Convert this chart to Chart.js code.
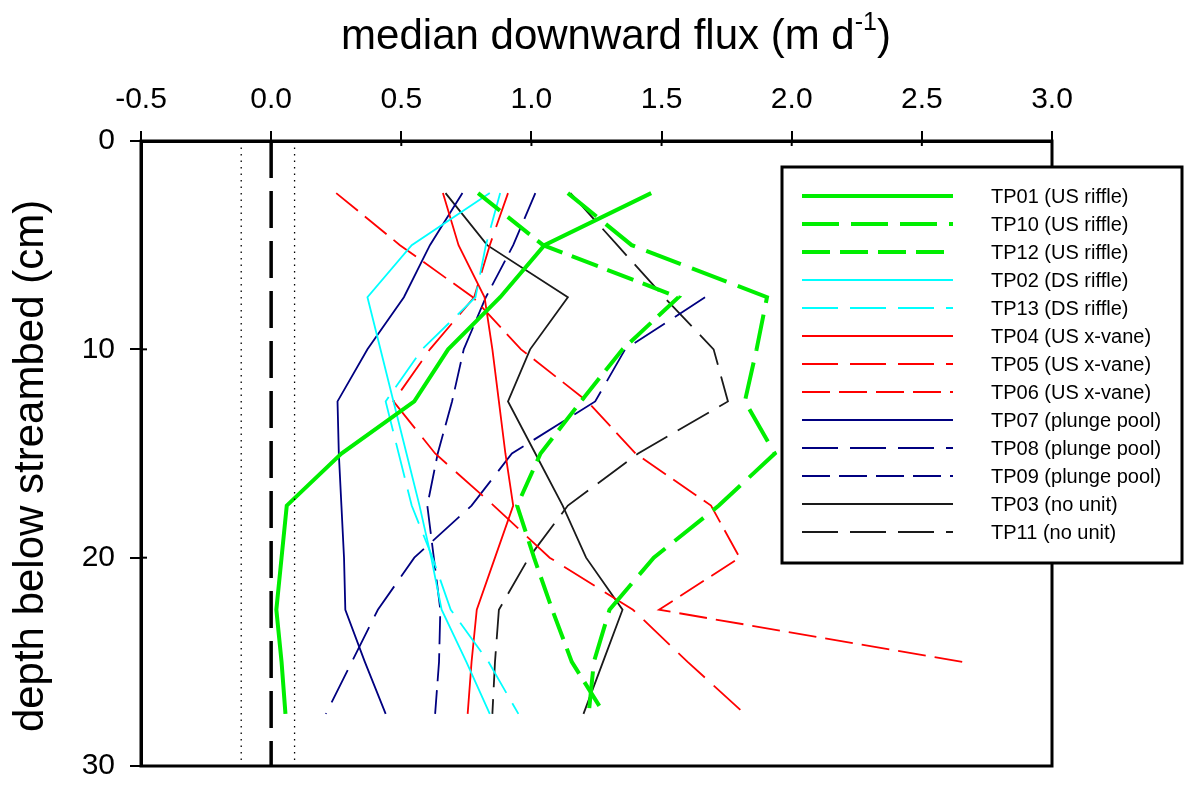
<!DOCTYPE html>
<html>
<head>
<meta charset="utf-8">
<script src="https://cdn.jsdelivr.net/npm/chart.js@4.4.1/dist/chart.umd.min.js"></script>
<style>
  html, body { margin: 0; padding: 0; background: #fff; }
  #wrap { width: 1188px; height: 786px; }
</style>
</head>
<body>
<div id="wrap"><canvas id="fluxChart" width="1188" height="786"></canvas></div>
<script>
// depth of each sensor pair (cm below streambed)
var depths = [2.5, 5, 7.5, 10, 12.5, 15, 17.5, 20, 22.5, 25, 27.5];

// median downward flux (m/d) per test pit
var tp01 = [1.46, 1.05, 0.88, 0.68, 0.55, 0.27, 0.06, 0.04, 0.02, 0.04, 0.055];
var tp10 = [1.14, 1.385, 1.905, 1.865, 1.82, 1.935, 1.72, 1.47, 1.30, 1.24, 1.22];
var tp12 = [0.795, 1.045, 1.565, 1.35, 1.19, 1.035, 0.945, 1.01, 1.08, 1.155, 1.28];
var tp02 = [0.84, 0.54, 0.37, 0.42, 0.47, 0.52, 0.57, 0.615, 0.655, 0.75, 0.84];
var tp13 = [0.88, 0.825, 0.785, 0.58, 0.44, 0.49, 0.54, 0.62, 0.69, 0.835, 0.95];
var tp04 = [0.66, 0.72, 0.82, 0.85, 0.875, 0.90, 0.93, 0.86, 0.79, 0.77, 0.755];
var tp05 = [0.91, 0.84, 0.78, 0.61, 0.47, 0.63, 0.855, 1.07, 1.39, 1.60, 1.82];
var tp06 = [0.25, 0.495, 0.775, 0.96, 1.215, 1.40, 1.69, 1.80, 1.49, 2.655, null];
var tp07 = [0.735, 0.61, 0.51, 0.37, 0.255, 0.26, 0.27, 0.28, 0.285, 0.36, 0.44];
var tp08 = [null, null, 1.667, 1.36, 1.245, 0.925, 0.77, 0.55, 0.41, 0.31, 0.21];
var tp09 = [1.015, 0.93, 0.825, 0.74, 0.695, 0.64, 0.60, 0.625, 0.65, 0.645, 0.63];
var tp03 = [0.67, 0.83, 1.14, 0.995, 0.91, 1.015, 1.12, 1.21, 1.35, 1.275, 1.2];
var tp11 = [1.15, 1.33, 1.51, 1.70, 1.755, 1.41, 1.14, 0.99, 0.875, 0.86, 0.85];

// reference lines: zero flux and its uncertainty band
var zeroFlux = [0];
var zeroBand = [-0.115, 0.09];
var depthRange = [0, 30];

// x ticks and y ticks
var fluxTicks = [-0.5, 0.0, 0.5, 1.0, 1.5, 2.0, 2.5, 3.0];
var depthTicks = [0, 10, 20, 30];

var FONT = "'Liberation Sans', Arial, sans-serif";

function profile(values) {
    var pts = [];
    for (var i = 0; i < depths.length; i++) {
        if (values[i] !== null) pts.push({x: values[i], y: depths[i]});
    }
    return pts;
}

function series(label, values, color, width, dash) {
    return {
        label: label,
        data: profile(values),
        borderColor: color,
        borderWidth: width,
        borderDash: dash,
        pointRadius: 0,
        tension: 0,
        fill: false,
        inLegend: true
    };
}

function vline(x, width, dash) {
    return {
        label: "",
        data: depthRange.map(function(d){ return {x: x, y: d}; }),
        borderColor: "#000",
        borderWidth: width,
        borderDash: dash,
        pointRadius: 0,
        fill: false,
        inLegend: false
    };
}

var datasets = [
    vline(zeroFlux[0], 3.5, [37, 13]),
    vline(zeroBand[0], 1.3, [1.5, 5]),
    vline(zeroBand[1], 1.3, [1.5, 5]),
    series("TP01 (US riffle)", tp01, "#00ee00", 4, []),
    series("TP10 (US riffle)", tp10, "#00ee00", 4, [37, 12]),
    series("TP12 (US riffle)", tp12, "#00ee00", 4, [28, 10]),
    series("TP02 (DS riffle)", tp02, "#00ffff", 1.8, []),
    series("TP13 (DS riffle)", tp13, "#00ffff", 1.8, [36, 12]),
    series("TP04 (US x-vane)", tp04, "#ff0000", 1.8, []),
    series("TP05 (US x-vane)", tp05, "#ff0000", 1.8, [36, 12]),
    series("TP06 (US x-vane)", tp06, "#ff0000", 1.8, [28, 9]),
    series("TP07 (plunge pool)", tp07, "#000080", 1.8, []),
    series("TP08 (plunge pool)", tp08, "#000080", 1.8, [36, 12]),
    series("TP09 (plunge pool)", tp09, "#000080", 1.8, [28, 9]),
    series("TP03 (no unit)", tp03, "#1a1a1a", 1.8, []),
    series("TP11 (no unit)", tp11, "#1a1a1a", 1.8, [36, 12])
];

// frame, inward tick marks, axis titles, boxed legend
var decorPlugin = {
    id: "decor",
    afterDatasetsDraw: function(chart) {
        var ctx = chart.ctx;
        var a = chart.chartArea;
        var xs = chart.scales.x, ys = chart.scales.y;
        ctx.save();
        ctx.strokeStyle = "#000";
        ctx.lineWidth = 3;
        ctx.beginPath();
        ctx.moveTo(a.left, a.top);
        ctx.lineTo(a.right, a.top);
        ctx.lineTo(a.right, a.bottom);
        ctx.lineTo(a.left, a.bottom);
        ctx.closePath();
        ctx.stroke();

        ctx.lineWidth = 2;
        fluxTicks.forEach(function(t){
            var px = xs.getPixelForValue(t);
            ctx.beginPath(); ctx.moveTo(px, a.top); ctx.lineTo(px, a.top + 5); ctx.stroke();
        });
        depthTicks.forEach(function(t){
            var py = ys.getPixelForValue(t);
            ctx.beginPath(); ctx.moveTo(a.left, py); ctx.lineTo(a.left + 6, py); ctx.stroke();
        });

        // x axis title (top) with superscript unit
        ctx.fillStyle = "#000";
        ctx.textBaseline = "alphabetic";
        ctx.textAlign = "left";
        var main = "median downward flux (m d";
        var sup = "-1";
        var close = ")";
        ctx.font = "42px " + FONT;
        var w1 = ctx.measureText(main).width;
        var w3 = ctx.measureText(close).width;
        ctx.font = "25px " + FONT;
        var w2 = ctx.measureText(sup).width;
        var total = w1 + w2 + w3;
        var x0 = 616 - total / 2;
        var base = 49;
        ctx.font = "42px " + FONT;
        ctx.fillText(main, x0, base);
        ctx.font = "25px " + FONT;
        ctx.fillText(sup, x0 + w1, base - 19);
        ctx.font = "42px " + FONT;
        ctx.fillText(close, x0 + w1 + w2, base);

        // y axis title
        ctx.save();
        ctx.translate(31, 466);
        ctx.rotate(-Math.PI / 2);
        ctx.textAlign = "center";
        ctx.textBaseline = "middle";
        ctx.font = "42px " + FONT;
        ctx.fillText("depth below streambed (cm)", 0, 0);
        ctx.restore();

        // legend box
        var bx = 782, by = 167, bw = 400, bh = 396;
        ctx.fillStyle = "#fff";
        ctx.fillRect(bx, by, bw, bh);
        ctx.lineWidth = 3;
        ctx.strokeStyle = "#000";
        ctx.strokeRect(bx, by, bw, bh);
        var row = 0;
        chart.data.datasets.forEach(function(ds){
            if (!ds.inLegend) return;
            var y = 196 + row * 28;
            ctx.save();
            ctx.strokeStyle = ds.borderColor;
            ctx.lineWidth = ds.borderWidth;
            ctx.setLineDash(ds.borderDash || []);
            ctx.beginPath();
            ctx.moveTo(802, y);
            ctx.lineTo(953, y);
            ctx.stroke();
            ctx.restore();
            ctx.fillStyle = "#000";
            ctx.font = "20px " + FONT;
            ctx.textAlign = "left";
            ctx.textBaseline = "middle";
            ctx.fillText(ds.label, 991, y + 1);
            row++;
        });
        ctx.restore();
    }
};

var chart = new Chart(document.getElementById("fluxChart"), {
    type: "line",
    data: { datasets: datasets },
    options: {
        responsive: false,
        animation: false,
        layout: { padding: { left: 0, top: 0, right: 136, bottom: 20 } },
        plugins: { legend: { display: false }, tooltip: { enabled: false } },
        scales: {
            x: {
                type: "linear",
                position: "top",
                min: -0.5,
                max: 3.0,
                afterBuildTicks: function(s){ s.ticks = fluxTicks.map(function(v){ return {value: v}; }); },
                afterFit: function(s){ s.height = 141; s.paddingLeft = 0; s.paddingRight = 0; },
                ticks: {
                    color: "#000",
                    font: { family: FONT, size: 30 },
                    padding: 13,
                    maxRotation: 0,
                    callback: function(v){ return v.toFixed(1); }
                },
                grid: { drawOnChartArea: false, drawTicks: true, tickLength: 10, color: "#000", lineWidth: 2 },
                border: { display: true, color: "#000", width: 3 }
            },
            y: {
                type: "linear",
                reverse: true,
                min: 0,
                max: 30,
                afterBuildTicks: function(s){ s.ticks = depthTicks.map(function(v){ return {value: v}; }); },
                afterFit: function(s){ s.width = 141; s.paddingTop = 0; s.paddingBottom = 0; },
                ticks: {
                    color: "#000",
                    font: { family: FONT, size: 30 },
                    padding: 15
                },
                grid: { drawOnChartArea: false, drawTicks: true, tickLength: 11, color: "#000", lineWidth: 2 },
                border: { display: true, color: "#000", width: 3 }
            }
        }
    },
    plugins: [decorPlugin]
});
</script>
</body>
</html>
